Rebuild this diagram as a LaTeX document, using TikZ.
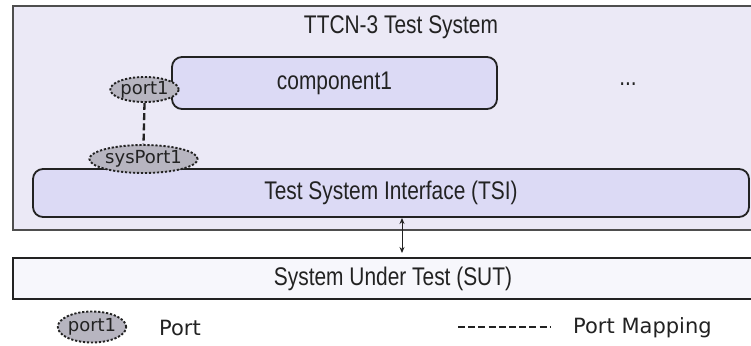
\documentclass[tikz,border=0pt]{standalone}
\usepackage{fontspec}
\setmainfont{Liberation Sans}[FakeStretch=0.82]
\newfontfamily\dejavu{DejaVu Sans}
\usetikzlibrary{shapes.geometric,arrows.meta}

\definecolor{sysbg}{HTML}{EBE9F6}
\definecolor{compbg}{HTML}{DCDAF5}
\definecolor{portbg}{HTML}{B7B5C0}
\definecolor{sutbg}{HTML}{F7F7FC}
\definecolor{edge}{HTML}{222222}

\tikzset{
  boxlabel/.style={font=\fontsize{25.5}{28}\selectfont, text=edge},
  roundbox/.style={draw=edge, fill=compbg, line width=1.8pt, rounded corners=10pt,
    inner sep=0pt, boxlabel},
  portnode/.style={ellipse, draw=edge, fill=portbg, line width=1.9pt,
    dash pattern=on 2.2pt off 1.8pt, inner sep=0pt,
    font=\dejavu\fontsize{18}{20}\selectfont, text=edge},
  mapline/.style={draw=edge, line width=2.3pt, dash pattern=on 7pt off 3.2pt},
  legendtext/.style={font=\dejavu\fontsize{21}{24}\selectfont, text=edge, inner sep=0pt},
  link/.style={draw=edge, line width=0.9pt,
    {Stealth[length=6pt,width=5pt]}-{Stealth[length=6pt,width=5pt]}}
}

\begin{document}
\begin{tikzpicture}[x=1pt,y=-1pt]
\useasboundingbox (0,0) rectangle (751,345);

% test system frame
\node[draw=edge!80, fill=sysbg, line width=1.5pt, minimum width=780pt,
      minimum height=224pt, inner sep=0pt] (sys) at (403,118) {};
\node[boxlabel] (title) at (401,27) {TTCN-3 Test System};

% component with its port
\node[roundbox, minimum width=325pt, minimum height=52pt] (comp) at (334.5,83) {component1};
\node[portnode, minimum width=65pt, minimum height=25pt] (p1) at (144.5,89.5) {port1};
\node[boxlabel] (more) at (628,84) {...};

% test system interface
\node[roundbox, minimum width=716pt, minimum height=48pt] (tsi) at (391,193) {Test System Interface (TSI)};
\node[portnode, minimum width=103pt, minimum height=28pt] (sp1) at (143.5,159) {sysPort1};
\draw[mapline] (p1.south) -- (sp1.north);

% system under test
\node[draw=edge, fill=sutbg, line width=1.8pt, minimum width=760pt,
      minimum height=41pt, inner sep=0pt, boxlabel] (sut) at (393,278.5) {System Under Test (SUT)};
\coordinate (ta) at (402,217);
\coordinate (sa) at (402,258);
\draw[link, shorten <=1pt, shorten >=5pt] (ta) -- (sa);

% legend
\node[portnode, minimum width=64pt, minimum height=31pt] (lp) at (92,327) {port1};
\node[legendtext] (lpt) at (180,328) {Port};
\coordinate (ma) at (458,327);
\coordinate (mb) at (550,327);
\draw[mapline] (ma) -- (mb);
\node[legendtext, anchor=west] (lmt) at (573,328) {Port Mapping};
\end{tikzpicture}
\end{document}
